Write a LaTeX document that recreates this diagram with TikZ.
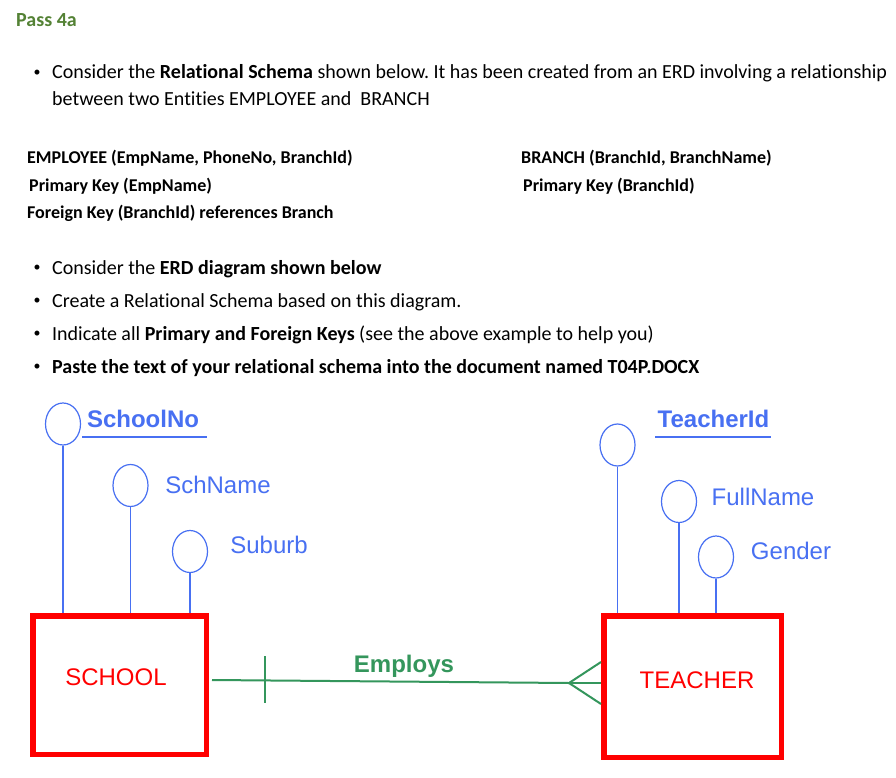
\documentclass[tikz,border=0pt]{standalone}
\usepackage{fontspec}
\setmainfont{Carlito}[Ligatures=NoCommon]
\newfontfamily\arialf{Liberation Sans}
\usetikzlibrary{shapes.geometric}
\definecolor{passgreen}{RGB}{84,130,53}
\definecolor{erdblue}{RGB}{72,112,242}
\definecolor{erdred}{RGB}{255,0,0}
\definecolor{relgreen}{RGB}{52,150,92}
\frenchspacing
\begin{document}
\begin{tikzpicture}[x=1pt,y=-1pt,
  txt/.style={anchor=base west,inner sep=0pt,font=\fontsize{20}{24}\selectfont},
  schema/.style={anchor=base west,inner sep=0pt,font=\fontsize{18}{22}\selectfont\bfseries},
  bul/.style={anchor=center,inner sep=0pt,font=\fontsize{14}{16}\selectfont},
  attr/.style={ellipse,draw=erdblue,line width=1.2pt,minimum width=35pt,minimum height=42pt,inner sep=0pt},
  attrtxt/.style={inner sep=0pt,text=erdblue,font=\arialf\fontsize{24}{28}\selectfont},
  keytxt/.style={attrtxt,font=\arialf\bfseries\fontsize{24}{28}\selectfont},
  attrline/.style={draw=erdblue,line width=1.2pt},
  keyline/.style={draw=erdblue,line width=2pt},
  entity/.style={rectangle,draw=erdred,line width=5.5pt,inner sep=0pt},
  enttxt/.style={inner sep=0pt,text=erdred,font=\arialf\fontsize{24}{28}\selectfont},
  rel/.style={draw=relgreen,line width=2pt}]
\fill[white] (0,0) rectangle (896,778);
\useasboundingbox (0,0) rectangle (896,778);

\node[anchor=base west,inner sep=0pt,text=passgreen,font=\fontsize{20}{24}\selectfont\bfseries] (pass) at (16,27) {Pass 4a};

\node[bul] (b1) at (37,73) {\textbullet};
\node[txt] (l1) at (52,79) {Consider the \textbf{Relational Schema} shown below. It has been created from an ERD involving a relationship};
\node[txt] (l2) at (52,106) {between two Entities EMPLOYEE and\ \ BRANCH};

\node[schema] (s1) at (27,164) {EMPLOYEE (EmpName, PhoneNo, BranchId)};
\node[schema] (s2) at (29,191) {Primary Key (EmpName)};
\node[schema] (s3) at (27,218) {Foreign Key (BranchId) references Branch};
\node[schema] (s4) at (521,164) {BRANCH (BranchId, BranchName)};
\node[schema] (s5) at (523,191) {Primary Key (BranchId)};

\node[bul] (b2) at (37,268) {\textbullet};
\node[txt] (l3) at (52,274) {Consider the \textbf{ERD diagram shown below}};
\node[bul] (b3) at (37,301) {\textbullet};
\node[txt] (l4) at (52,307) {Create a Relational Schema based on this diagram.};
\node[bul] (b4) at (37,334) {\textbullet};
\node[txt] (l5) at (52,340) {Indicate all \textbf{Primary and Foreign Keys} (see the above example to help you)};
\node[bul] (b5) at (37,367) {\textbullet};
\node[txt] (l6) at (52,373) {\textbf{Paste the text of your relational schema into the document named T04P.DOCX}};

% entities
\node[entity,minimum width=173.5pt,minimum height=138.5pt] (school) at (119.5,685) {};
\node[enttxt] (schooltxt) at (116,677) {SCHOOL};
\node[entity,minimum width=177.5pt,minimum height=141.5pt] (teacher) at (692.5,686.5) {};
\node[enttxt] (teachertxt) at (697,680) {TEACHER};

% school attributes
\node[attr] (sa1) at (63,424) {};
\node[attr] (sa2) at (130.5,485.5) {};
\node[attr] (sa3) at (190,551.5) {};
\node[keytxt] (sn1) at (143,419) {SchoolNo};
\coordinate (u1a) at (82,437); \coordinate (u1b) at (207,437);
\draw[keyline] (u1a) -- (u1b);
\node[attrtxt] (sn2) at (218,485) {SchName};
\node[attrtxt] (sn3) at (269,545) {Suburb};
\draw[attrline] (sa1.south) -- (sa1.south |- school.north);
\draw[attrline] (sa2.south) -- (sa2.south |- school.north);
\draw[attrline] (sa3.south) -- (sa3.south |- school.north);

% teacher attributes
\node[attr] (ta1) at (617.5,445) {};
\node[attr] (ta2) at (679,501.5) {};
\node[attr] (ta3) at (716,557) {};
\node[keytxt] (tn1) at (713.5,419) {TeacherId};
\coordinate (u2a) at (655,437); \coordinate (u2b) at (771,437);
\draw[keyline] (u2a) -- (u2b);
\node[attrtxt] (tn2) at (763,497) {FullName};
\node[attrtxt] (tn3) at (791,551) {Gender};
\draw[attrline] (ta1.south) -- (ta1.south |- teacher.north);
\draw[attrline] (ta2.south) -- (ta2.south |- teacher.north);
\draw[attrline] (ta3.south) -- (ta3.south |- teacher.north);

% relationship
\coordinate (rs) at (212,680);
\coordinate (cf) at (569,683);
\coordinate (p1) at (601,662);
\coordinate (p2) at (601,683);
\coordinate (p3) at (601,704);
\coordinate (bt) at (265,656);
\coordinate (bb) at (265,703);
\draw[rel] (rs) -- (cf);
\draw[rel] (cf) -- (p1);
\draw[rel] (cf) -- (p2);
\draw[rel] (cf) -- (p3);
\draw[rel,line width=1.5pt] (bt) -- (bb);
\node[inner sep=0pt,text=relgreen,font=\arialf\bfseries\fontsize{24}{28}\selectfont] (employs) at (404,666) {Employs};
\end{tikzpicture}
\end{document}
